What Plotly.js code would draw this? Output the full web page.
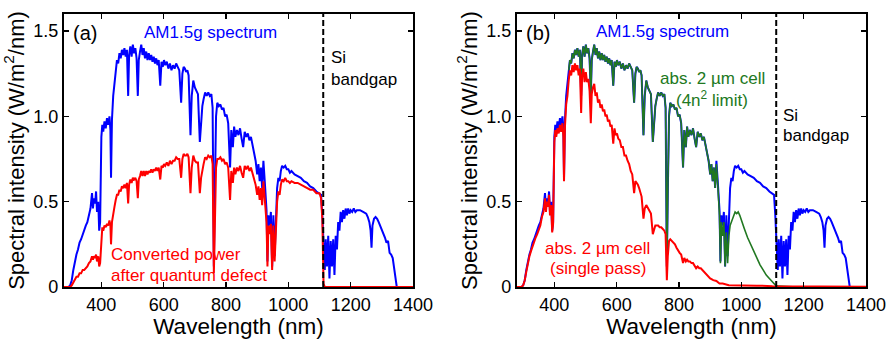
<!DOCTYPE html>
<html>
<head>
<meta charset="utf-8">
<script src="https://cdn.plot.ly/plotly-3.0.1.min.js"></script>
<style>html,body{margin:0;padding:0;background:#fff;}#chart{width:891px;height:339px;}</style>
</head>
<body>
<div id="chart"></div>
<script>
// AM1.5g spectrum (W/m^2/nm)
const wl = [280,295,300,305,310,315,320,325,330,335,340,345,350,355,360,365,370,373,376,380,383,386,390,393,396,
400,403,406,410,414,418,422,426,429,431,434,438,442,446,450,454,458,462,466,470,474,478,482,486,489,493,497,
501,505,509,513,517,520,524,528,532,536,540,544,548,552,556,560,564,568,572,576,580,584,589,593,597,
601,605,610,615,620,625,630,635,640,645,650,656,660,664,668,672,676,680,686,690,695,700,705,710,716,720,724,728,733,738,743,748,753,757,
761,764,768,772,777,782,787,792,797,802,807,813,817,822,826,830,835,840,845,850,855,860,865,870,875,880,885,890,895,
900,904,908,912,916,920,925,930,933,936,940,944,948,952,956,960,964,968,972,976,980,985,990,995,
1000,1005,1010,1020,1030,1040,1050,1060,1070,1080,1090,1100,1105,1109,1113,1117,1120,1124,1128,1132,1136,1140,1144,1148,
1152,1156,1160,1164,1168,1172,1176,1180,1184,1188,1192,1196,1200,1205,1210,1215,1220,1230,1240,1250,1255,1260,1264,1267,
1270,1275,1280,1285,1290,1295,1300,1305,1310,1315,1320,1325,1330,1335,1340,1345,1348,1400];

const am15 = [0,0,0.01,0.04,0.10,0.15,0.19,0.22,0.26,0.28,0.31,0.33,0.36,0.38,0.43,0.46,0.55,0.46,0.52,0.49,0.56,0.44,0.50,0.33,0.38,
0.88,0.95,0.91,0.97,0.93,0.99,0.95,1.00,0.92,0.64,0.98,1.12,1.18,1.27,1.33,1.31,1.37,1.34,1.39,1.36,1.40,1.35,1.39,1.12,1.36,1.41,1.35,
1.42,1.37,1.40,1.34,1.12,1.33,1.38,1.42,1.36,1.40,1.34,1.38,1.33,1.37,1.33,1.36,1.32,1.35,1.31,1.34,1.30,1.33,1.18,1.32,1.29,
1.33,1.30,1.32,1.28,1.31,1.27,1.30,1.28,1.31,1.29,1.27,1.08,1.25,1.29,1.28,1.26,1.27,1.24,0.89,1.12,1.21,1.17,1.15,1.13,0.85,0.98,1.06,1.10,1.14,1.12,1.14,1.12,1.13,1.05,
0.12,0.55,1.00,1.08,1.06,1.07,1.04,1.05,1.00,1.01,0.96,0.70,0.92,0.82,0.94,0.88,0.92,0.89,0.93,0.87,0.82,0.91,0.88,0.90,0.86,0.88,0.84,0.79,0.74,
0.66,0.72,0.62,0.70,0.58,0.74,0.60,0.45,0.15,0.42,0.36,0.44,0.12,0.42,0.18,0.45,0.58,0.64,0.62,0.68,0.71,0.70,0.71,0.69,
0.69,0.67,0.68,0.66,0.65,0.64,0.62,0.61,0.59,0.58,0.56,0.55,0.54,0.42,0.22,0.10,0.28,0.12,0.30,0.05,0.27,0.12,0.28,0.07,
0.30,0.22,0.38,0.33,0.44,0.38,0.45,0.40,0.46,0.42,0.46,0.43,0.45,0.44,0.46,0.44,0.45,0.45,0.44,0.43,0.41,0.38,0.33,0.23,
0.36,0.40,0.41,0.40,0.38,0.36,0.33,0.31,0.29,0.26,0.27,0.20,0.19,0.17,0.10,0.02,0,0];

// (a) converted power after quantum defect, same wavelength grid
const convPower = [0,0,0,0.01,0.03,0.04,0.06,0.06,0.08,0.08,0.10,0.10,0.11,0.12,0.14,0.15,0.18,0.16,0.18,0.17,0.19,0.15,0.18,0.12,0.14,
0.32,0.35,0.33,0.36,0.35,0.37,0.36,0.39,0.36,0.25,0.38,0.44,0.47,0.51,0.54,0.54,0.57,0.56,0.59,0.58,0.60,0.58,0.61,0.49,0.60,0.63,0.61,
0.64,0.63,0.64,0.62,0.52,0.63,0.65,0.68,0.65,0.68,0.65,0.68,0.66,0.68,0.67,0.69,0.67,0.69,0.68,0.70,0.68,0.70,0.63,0.71,0.70,
0.72,0.71,0.73,0.71,0.74,0.72,0.74,0.74,0.76,0.75,0.75,0.64,0.75,0.78,0.77,0.77,0.78,0.76,0.55,0.70,0.77,0.74,0.73,0.73,0.55,0.64,0.69,0.72,0.76,0.75,0.77,0.76,0.77,0.72,
0.08,0.38,0.70,0.75,0.75,0.76,0.74,0.75,0.72,0.73,0.70,0.51,0.68,0.61,0.70,0.66,0.70,0.68,0.71,0.67,0.64,0.71,0.69,0.71,0.68,0.70,0.67,0.64,0.60,
0.54,0.59,0.51,0.58,0.48,0.62,0.50,0.38,0.12,0.36,0.31,0.37,0.10,0.36,0.15,0.39,0.50,0.56,0.54,0.60,0.63,0.62,0.64,0.62,
0.62,0.61,0.62,0.61,0.61,0.60,0.59,0.58,0.57,0.57,0.55,0.55,0.52,0.40,0.02,0,0,0,0,0,0,0,0,0,
0,0,0,0,0,0,0,0,0,0,0,0,0,0,0,0,0,0,0,0,0,0,0,0,
0,0,0,0,0,0,0,0,0,0,0,0,0,0,0,0,0,0];

// (b) absorbed in 2 um cell, 4n^2 limit
const wlGreen = [446,450,454,458,462,466,470,474,478,482,486,489,493,497,
501,505,509,513,517,520,524,528,532,536,540,544,548,552,556,560,564,568,572,576,580,584,589,593,597,
601,605,610,615,620,625,630,635,640,645,650,656,660,664,668,672,676,680,686,690,695,700,705,710,716,720,724,728,733,738,743,748,753,757,
761,764,768,772,777,782,787,792,797,802,807,813,817,822,826,830,835,840,845,850,855,860,865,870,875,880,885,890,895,
900,904,908,912,916,920,925,930,933,936,940,944,948,952,956,960,964,968,972,976,980,985,990,995,
1000,1005,1010,1020,1030,1040,1050,1060,1070,1080,1090,1100,1110,1120,1180,1400];
const absLambertian = [1.27,1.33,1.31,1.37,1.34,1.39,1.36,1.40,1.35,1.39,1.12,1.36,1.41,1.35,
1.42,1.37,1.40,1.34,1.12,1.33,1.38,1.42,1.36,1.40,1.34,1.38,1.33,1.37,1.33,1.36,1.32,1.35,1.31,1.34,1.30,1.33,1.18,1.32,1.29,
1.33,1.30,1.32,1.28,1.31,1.27,1.30,1.28,1.31,1.29,1.27,1.08,1.25,1.29,1.28,1.26,1.27,1.24,0.89,1.12,1.21,1.17,1.15,1.13,0.85,0.98,1.06,1.10,1.14,1.12,1.14,1.12,1.13,1.05,
0.12,0.55,1.00,1.08,1.06,1.07,1.04,1.05,1.00,1.01,0.96,0.70,0.92,0.82,0.94,0.88,0.92,0.89,0.93,0.87,0.82,0.91,0.88,0.90,0.86,0.88,0.84,0.79,0.74,
0.66,0.72,0.62,0.70,0.58,0.72,0.58,0.42,0.14,0.38,0.30,0.38,0.12,0.32,0.14,0.30,0.36,0.38,0.40,0.42,0.44,0.43,0.44,0.42,
0.39,0.36,0.34,0.29,0.25,0.20,0.17,0.13,0.10,0.07,0.05,0.03,0.01,0.005,0,0];

// (b) absorbed in 2 um cell, single pass
const wlRed = [280,295,300,305,310,315,320,325,330,335,340,345,350,355,360,365,370,373,376,380,383,386,390,393,396,
400,403,406,410,414,418,422,426,429,431,434,438,442,446,450,454,458,462,466,470,474,478,482,486,489,493,497,
501,505,509,513,517,520,524,528,532,536,540,544,548,552,556,560,564,568,572,576,580,584,589,593,597,
601,605,610,615,620,625,630,635,640,645,650,656,660,664,668,672,676,680,686,690,695,700,705,710,716,720,724,728,733,738,743,748,753,757,
761,764,768,772,777,782,787,792,797,802,807,813,817,822,826,830,835,840,845,850,855,860,865,870,875,880,885,890,895,
900,910,920,930,940,960,1000,1050,1100,1200,1400];
const absSingle = [0,0,0.01,0.04,0.09,0.14,0.18,0.21,0.24,0.26,0.29,0.31,0.34,0.36,0.41,0.44,0.52,0.44,0.50,0.47,0.54,0.42,0.48,0.32,0.37,
0.85,0.92,0.88,0.93,0.90,0.95,0.91,0.96,0.88,0.62,0.94,1.07,1.12,1.21,1.27,1.24,1.30,1.26,1.31,1.27,1.30,1.24,1.28,1.02,1.24,1.28,1.20,
1.26,1.20,1.22,1.15,0.96,1.13,1.17,1.19,1.12,1.14,1.08,1.10,1.05,1.07,1.03,1.04,1.00,1.01,0.97,0.98,0.94,0.95,0.84,0.93,0.89,
0.90,0.87,0.86,0.82,0.82,0.77,0.77,0.74,0.72,0.68,0.66,0.55,0.62,0.61,0.60,0.58,0.56,0.53,0.40,0.46,0.48,0.46,0.44,0.43,0.31,0.34,0.36,0.36,0.36,0.35,0.35,0.34,0.33,0.31,
0.04,0.18,0.27,0.28,0.27,0.26,0.25,0.23,0.21,0.20,0.19,0.14,0.17,0.15,0.16,0.15,0.15,0.14,0.14,0.12,0.11,0.12,0.11,0.11,0.10,0.09,0.08,0.07,0.06,
0.05,0.04,0.035,0.02,0.02,0.01,0.01,0.008,0.005,0.003,0.002];

const siBandgap = 1112;
const xTicks = [400,600,800,1000,1200,1400];
const yTicks = [0,0.5,1.0,1.5];
const yTickText = ['0','0.5','1.0','1.5'];

const BLUE = '#0000ff', RED = '#ff0000', GREEN = '#217821';
const FONT = 'Liberation Sans, Arial, sans-serif';

const traces = [
  {x: wl, y: am15, xaxis:'x', yaxis:'y', mode:'lines', line:{color:BLUE, width:2}},
  {x: wl, y: convPower, xaxis:'x', yaxis:'y', mode:'lines', line:{color:RED, width:2}},
  {x: wl, y: am15, xaxis:'x2', yaxis:'y2', mode:'lines', line:{color:BLUE, width:2}},
  {x: wlGreen, y: absLambertian, xaxis:'x2', yaxis:'y2', mode:'lines', line:{color:GREEN, width:1.6}},
  {x: wlRed, y: absSingle, xaxis:'x2', yaxis:'y2', mode:'lines', line:{color:RED, width:2}}
];

function xAxis(domain, anchor){
  return {domain, anchor, range:[280,1400], tickvals:xTicks, ticktext:xTicks.map(String),
    ticks:'inside', ticklen:5, tickwidth:1.5, tickcolor:'#000', mirror:'ticks', showline:true, linewidth:2, linecolor:'#000',
    showgrid:false, zeroline:false, tickfont:{size:18, color:'#000'},
    title:{text:'Wavelength (nm)', font:{size:22.5, color:'#000'}, standoff:0}};
}
function yAxis(anchor){
  return {domain:[0,1], anchor, range:[0,1.6], tickvals:yTicks, ticktext:yTickText,
    ticks:'inside', ticklen:5, tickwidth:1.5, tickcolor:'#000', mirror:'ticks', showline:true, linewidth:2, linecolor:'#000',
    showgrid:false, zeroline:false, tickfont:{size:18, color:'#000'},
    title:{text:'Spectral intensity (W/m<sup>2</sup>/nm)', font:{size:22, color:'#000'}, standoff:3}};
}

function ann(xref, yref, x, y, text, color, xanchor, size){
  return {xref, yref, x, y, text, showarrow:false, xanchor:xanchor||'left', yanchor:'middle',
    font:{size:size||17, color:color, family:FONT}, borderpad:0};
}

const layout = {
  width:891, height:339,
  margin:{l:0, r:0, t:14, b:52},
  paper_bgcolor:'#fff', plot_bgcolor:'#fff',
  showlegend:false,
  font:{family:FONT, color:'#000'},
  xaxis: xAxis([0.0718,0.4635],'y'),
  yaxis: yAxis('x'),
  xaxis2: xAxis([0.5802,0.9719],'y2'),
  yaxis2: yAxis('x2'),
  shapes:[
    {type:'line', xref:'x', yref:'y', x0:siBandgap, x1:siBandgap, y0:0, y1:1.6, line:{color:'#000', width:2, dash:'6px,3px'}},
    {type:'line', xref:'x2', yref:'y2', x0:siBandgap, x1:siBandgap, y0:0, y1:1.6, line:{color:'#000', width:2, dash:'6px,3px'}}
  ],
  annotations:[
    ann('x','y',307,1.486,'(a)','#000','left',20),
    ann('x','y',750,1.49,'AM1.5g spectrum',BLUE,'center'),
    ann('x','y',1134,1.345,'Si','#000'),
    ann('x','y',1134,1.216,'bandgap','#000'),
    ann('x','y',428,0.192,'Converted power',RED),
    ann('x','y',428,0.069,'after quantum defect',RED),
    ann('x2','y2',305,1.486,'(b)','#000','left',20),
    ann('x2','y2',746,1.498,'AM1.5g spectrum',BLUE,'center'),
    ann('x2','y2',906,1.223,'abs. 2 µm cell',GREEN,'center'),
    ann('x2','y2',906,1.10,'(4n<sup>2</sup> limit)',GREEN,'center'),
    ann('x2','y2',1131,1.006,'Si','#000'),
    ann('x2','y2',1131,0.889,'bandgap','#000'),
    ann('x2','y2',540,0.227,'abs. 2 µm cell',RED,'center'),
    ann('x2','y2',540,0.11,'(single pass)',RED,'center')
  ]
};

Plotly.newPlot('chart', traces, layout, {staticPlot:true, displayModeBar:false});
</script>
</body>
</html>
